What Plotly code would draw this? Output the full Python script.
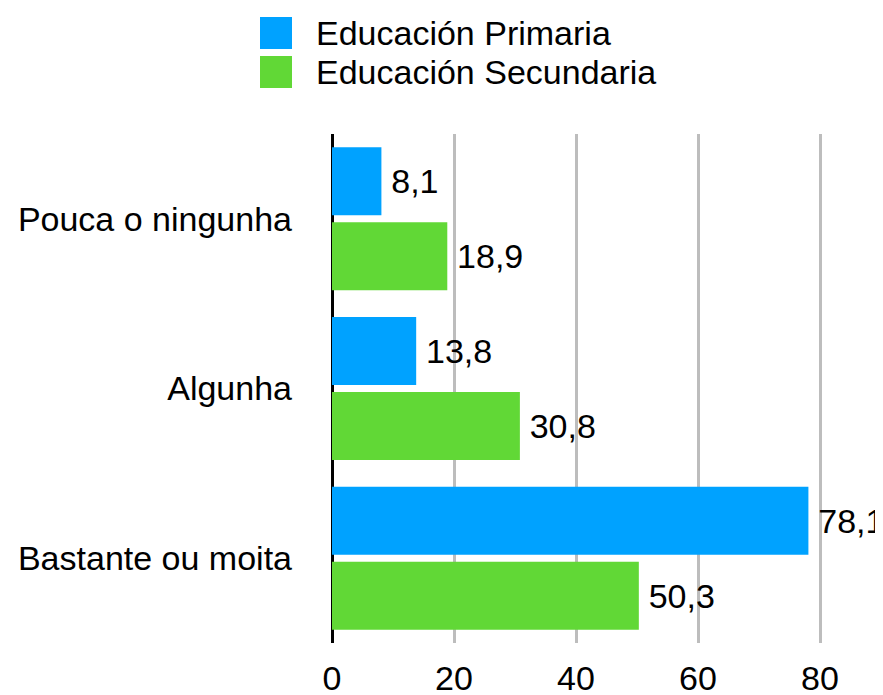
import plotly.graph_objects as go

categories = ["Pouca o ningunha", "Algunha", "Bastante ou moita"]
primaria = [8.1, 13.8, 78.1]
secundaria = [18.9, 30.8, 50.3]
series_names = ["Educación Primaria", "Educación Secundaria"]
colors = ["#00A2FF", "#61D836"]
tick_vals = [0, 20, 40, 60, 80]

FONT = "Liberation Sans"
FS = 34

# page body has an 8px margin, so the figure is drawn 8px in from the top-left
OFF = 8
W, H = 883 - OFF, 695 - OFF
L, R, T, B = 332 - OFF, 0, 134 - OFF, 695 - 643
X_MAX = (883 - 332) / 6.1

fig = go.Figure()
for name, vals, col in zip(series_names, [primaria, secundaria], colors):
    fig.add_trace(go.Bar(
        y=categories, x=vals, name=name, orientation="h",
        marker=dict(color=col, line=dict(width=0)),
        texttemplate="\u2009%{x:.1f}", textposition="outside",
        constraintext="none",
        textfont=dict(family=FONT, size=FS, color="black"),
        cliponaxis=False, showlegend=False,
    ))

# manual legend (large square swatches like the reference)
pw = W - L - R
ph = H - T - B
def px2x(sx):
    return (sx - OFF - L) / pw
def py2y(sy):
    return (H - B - (sy - OFF)) / ph

leg_tops = [17, 56]
for i, (name, col) in enumerate(zip(series_names, colors)):
    top = leg_tops[i]
    fig.add_shape(type="rect", xref="paper", yref="paper",
                  x0=px2x(260), x1=px2x(292), y0=py2y(top + 32), y1=py2y(top),
                  fillcolor=col, line=dict(width=0))
    fig.add_annotation(xref="paper", yref="paper", x=px2x(314), y=py2y(top + 16),
                       text=name, showarrow=False, xanchor="left", yanchor="middle",
                       font=dict(family=FONT, size=FS, color="black"))

fig.update_layout(
    width=W, height=H,
    margin=dict(l=L, r=R, t=T, b=B, autoexpand=False),
    paper_bgcolor="white", plot_bgcolor="white",
    barmode="group", bargap=0.116, bargroupgap=0.093,
    separators=",.",
    font=dict(family=FONT, size=FS, color="black"),
    xaxis=dict(range=[0, X_MAX], tickvals=tick_vals, showgrid=True,
               gridcolor="#BDBDBD", gridwidth=3, automargin=False,
               zeroline=True, zerolinecolor="black", zerolinewidth=3,
               showline=False, ticks="", ticklabelstandoff=12,
               tickfont=dict(family=FONT, size=FS)),
    yaxis=dict(autorange="reversed", showgrid=False, zeroline=False,
               showline=False, ticks="", ticklabelstandoff=39, automargin=False,
               tickfont=dict(family=FONT, size=FS)),
)

fig.write_html("out.html")
